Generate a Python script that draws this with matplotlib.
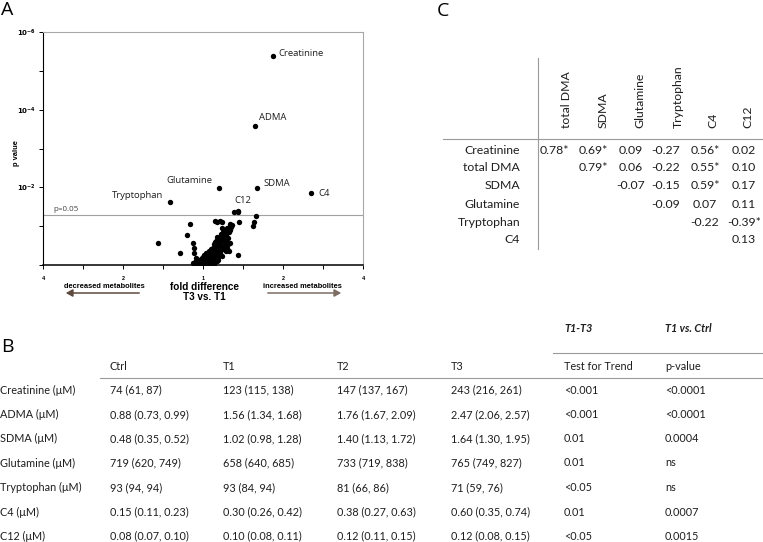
import numpy as np
import matplotlib
matplotlib.use("Agg")
import matplotlib.pyplot as plt

# ---- panel A: volcano plot (log2 fold difference T3 vs T1, -log10 p) ----
label_names = ["Creatinine", "ADMA", "Glutamine", "SDMA", "C4", "Tryptophan", "C12"]
label_log2fc = [0.875, 0.65, 0.20, 0.667, 1.35, -0.41, 0.39]
label_nlogp = [5.39, 3.59, 1.99, 1.99, 1.85, 1.62, 1.37]

other_log2fc = [0.44, -0.56, -0.17, -0.20, -0.29, -0.125, -0.11, 0.44, 0.146, 0.21, 0.24,
                0.45, 0.655, 0.64, 0.62, 0.30, 0.33, 0.35, 0.32, 0.25, 0.29, 0.31, 0.17,
                0.23, 0.21, 0.16, 0.13, 0.27, 0.25, 0.19, 0.10, 0.29, 0.33, 0.27, 0.325,
                -0.11, -0.09, -0.06, -0.13, -0.10, -0.08, -0.05, -0.03, -0.01, 0.00, 0.02,
                0.03, 0.05, 0.06, 0.07, 0.08, 0.09, 0.10, 0.11, 0.12, 0.13, 0.14, 0.15,
                -0.04, -0.02, 0.01, 0.04, 0.06, 0.08, 0.10, 0.12, 0.14, 0.16, 0.18, 0.20,
                0.22, 0.18, 0.02, -0.06, 0.09, 0.12, -0.07, 0.00, 0.05, 0.17, 0.19, 0.21,
                0.24, 0.26, 0.28, 0.30, 0.23, 0.175, 0.15, 0.35, 0.34, 0.11, 0.04, 0.07,
                -0.12, -0.10, -0.08, -0.06, -0.04, -0.02, 0.00, 0.02, 0.04, 0.06, 0.08,
                0.10, 0.12, 0.14, 0.16, 0.18, 0.20, 0.22, 0.24, 0.26, 0.28, 0.30, 0.32,
                0.34, 0.36, 0.20, 0.22, 0.15, 0.11, 0.13, -0.03, 0.03, 0.07, 0.13, 0.17,
                0.19, 0.23, 0.27, 0.29, 0.31]
other_nlogp = [0.25, 0.58, 1.07, 0.77, 0.30, 0.57, 0.43, 1.37, 1.14, 1.14, 1.12,
               1.12, 1.27, 1.12, 1.01, 0.43, 1.05, 0.97, 0.85, 0.85, 0.75, 0.69, 0.72,
               0.64, 0.52, 0.49, 0.43, 0.60, 0.49, 0.36, 0.36, 0.36, 0.57, 0.38, 0.37,
               0.30, 0.17, 0.09, 0.04, 0.02, 0.05, 0.03, 0.07, 0.02, 0.10, 0.05,
               0.15, 0.02, 0.10, 0.20, 0.05, 0.15, 0.25, 0.08, 0.30, 0.18, 0.05, 0.35,
               0.12, 0.18, 0.25, 0.08, 0.28, 0.32, 0.40, 0.45, 0.55, 0.62, 0.55, 0.45,
               0.80, 0.70, 0.00, 0.00, 0.00, 0.12, 0.14, 0.20, 0.22, 0.28, 0.20, 0.30,
               0.40, 0.70, 0.90, 0.95, 0.95, 1.12, 0.60, 1.03, 0.90, 0.18, 0.30, 0.35,
               0.02, 0.08, 0.12, 0.06, 0.02, 0.10, 0.04, 0.12, 0.18, 0.04, 0.22,
               0.12, 0.22, 0.30, 0.40, 0.48, 0.60, 0.65, 0.75, 0.82, 0.78, 0.85, 0.92,
               0.98, 1.02, 0.38, 0.52, 0.15, 0.35, 0.40, 0.16, 0.00, 0.00, 0.00, 0.10,
               0.12, 0.22, 0.50, 0.62, 0.55]

x_ticks = [-2, -1.5, -1, -0.5, 0, 0.5, 1, 1.5, 2]
x_ticklabels = ["4", "", "2", "", "1", "", "2", "", "4"]
y_ticks = [0, 1, 2, 3, 4, 5, 6]
y_ticklabels = ["", "", r"$\mathbf{10^{-2}}$", "", r"$\mathbf{10^{-4}}$", "", r"$\mathbf{10^{-6}}$"]
p_cut = 0.05

# ---- panel C: correlation table ----
corr_cols = ["total DMA", "SDMA", "Glutamine", "Tryptophan", "C4", "C12"]
corr_rows = ["Creatinine", "total DMA", "SDMA", "Glutamine", "Tryptophan", "C4"]
corr_vals = [
    ["0.78*", "0.69*", "0.09", "-0.27", "0.56*", "0.02"],
    ["", "0.79*", "0.06", "-0.22", "0.55*", "0.10"],
    ["", "", "-0.07", "-0.15", "0.59*", "0.17"],
    ["", "", "", "-0.09", "0.07", "0.11"],
    ["", "", "", "", "-0.22", "-0.39*"],
    ["", "", "", "", "", "0.13"],
]

# ---- panel B: concentrations table ----
b_rows = ["Creatinine (μM)", "ADMA (μM)", "SDMA (μM)", "Glutamine (μM)",
          "Tryptophan (μM)", "C4 (μM)", "C12 (μM)"]
b_ctrl = ["74 (61, 87)", "0.88 (0.73, 0.99)", "0.48 (0.35, 0.52)", "719 (620, 749)",
          "93 (94, 94)", "0.15 (0.11, 0.23)", "0.08 (0.07, 0.10)"]
b_t1 = ["123 (115, 138)", "1.56 (1.34, 1.68)", "1.02 (0.98, 1.28)", "658 (640, 685)",
        "93 (84, 94)", "0.30 (0.26, 0.42)", "0.10 (0.08, 0.11)"]
b_t2 = ["147 (137, 167)", "1.76 (1.67, 2.09)", "1.40 (1.13, 1.72)", "733 (719, 838)",
        "81 (66, 86)", "0.38 (0.27, 0.63)", "0.12 (0.11, 0.15)"]
b_t3 = ["243 (216, 261)", "2.47 (2.06, 2.57)", "1.64 (1.30, 1.95)", "765 (749, 827)",
        "71 (59, 76)", "0.60 (0.35, 0.74)", "0.12 (0.08, 0.15)"]
b_trend = ["<0.001", "<0.001", "0.01", "0.01", "<0.05", "0.01", "<0.05"]
b_pval = ["<0.0001", "<0.0001", "0.0004", "ns", "ns", "0.0007", "0.0015"]
b_header = ["Ctrl", "T1", "T2", "T3", "Test for Trend", "p-value"]
b_group = ["T1-T3", "T1 vs. Ctrl"]

W, H = 763, 542
fig = plt.figure(figsize=(W / 100, H / 100), dpi=100)


def fx(px):
    return px / W


def fy(py):
    return 1 - py / H


TAB_FONT = "Lato"
TXT = "#1e1e1e"
LINE = "#9a9a9a"

# ---------------- panel A ----------------
ax = fig.add_axes([fx(43.3), fy(265), fx(363.3) - fx(43.3), fy(32.3) - fy(265)])
ax.scatter(other_log2fc, other_nlogp, s=15, color="black", zorder=3, linewidths=0)
ax.scatter(label_log2fc, label_nlogp, s=15, color="black", zorder=3, linewidths=0)
ax.scatter([0.44], [1.38], s=15, color="black", zorder=3, linewidths=0)
ax.axhline(-np.log10(p_cut), color="#a0a0a0", lw=0.8)
ax.set_xlim(-2, 2)
ax.set_ylim(0, 6)
ax.set_xticks(x_ticks)
ax.set_xticklabels(x_ticklabels, fontsize=4, fontweight="bold", family="Liberation Sans")
ax.set_yticks(y_ticks)
ax.set_yticklabels(y_ticklabels, fontsize=5, family="Liberation Sans")
ax.tick_params(length=3, width=0.7, pad=2)
ax.tick_params(axis="x", pad=5)
for s in ["top", "right"]:
    ax.spines[s].set_color("#a8a8a8")
    ax.spines[s].set_linewidth(0.8)
ax.spines["left"].set_linewidth(0.8)
ax.spines["bottom"].set_linewidth(1.1)
ax.set_ylabel("p value", fontsize=5.4, fontweight="bold", family="Liberation Sans")
ax.yaxis.set_label_coords(-0.073, 0.48)

offsets = {
    "Creatinine": (4, 2, "left"),
    "ADMA": (3, 6, "left"),
    "Glutamine": (-5, 5, "right"),
    "SDMA": (5, 3, "left"),
    "C4": (5, 0, "left"),
    "Tryptophan": (-5, 5, "right"),
    "C12": (0, 8, "left"),
}
for name, x, y in zip(label_names, label_log2fc, label_nlogp):
    dx, dy, ha = offsets[name]
    ax.annotate(name, (x, y), xytext=(dx, dy), textcoords="offset points",
                ha=ha, va="center", fontsize=6.8, family="Open Sans", color=TXT)
ax.text(-1.88, -np.log10(p_cut) + 0.04, "p=0.05", fontsize=5.8, family="Open Sans",
        color="#444444", va="bottom")

fig.text(fx(1), fy(10), "A", fontsize=14, family="Open Sans", va="center", ha="left")
fig.text(fx(204), fy(287), "fold difference", fontsize=7.2, fontweight="bold",
         family="Liberation Sans", ha="center", va="center")
fig.text(fx(204), fy(297), "T3 vs. T1", fontsize=7.2, fontweight="bold",
         family="Liberation Sans", ha="center", va="center")
fig.text(fx(104), fy(286), "decreased metabolites", fontsize=5.4, fontweight="bold",
         family="Liberation Sans", ha="center", va="center")
fig.text(fx(302), fy(286), "increased metabolites", fontsize=5.4, fontweight="bold",
         family="Liberation Sans", ha="center", va="center")
fig.add_artist(matplotlib.patches.FancyArrowPatch(
    (fx(142), fy(293)), (fx(63), fy(293)), transform=fig.transFigure,
    arrowstyle="-|>,head_length=4,head_width=2.2", color="#5e4a3e", lw=1.1))
fig.add_artist(matplotlib.patches.FancyArrowPatch(
    (fx(265), fy(293)), (fx(344), fy(293)), transform=fig.transFigure,
    arrowstyle="-|>,head_length=4,head_width=2.2", color="#7d6e64", lw=1.1))

# ---------------- panel C ----------------
C_FS = 8.8
fig.text(fx(437), fy(11), "C", fontsize=14, family="Open Sans", va="center", ha="left")
fig.add_artist(plt.Line2D([fx(538.3), fx(538.3)], [fy(58), fy(249)], color=LINE, lw=0.8))
fig.add_artist(plt.Line2D([fx(442.7), fx(763)], [fy(139), fy(139)], color=LINE, lw=0.8))
head_x = [566.7, 603.3, 640, 678.3, 713.3, 748.3]
cell_x = [554.5, 593, 631, 666, 705, 744]
row_y = [150, 167.8, 185.7, 204, 222, 239.5]
for name, hx in zip(corr_cols, head_x):
    fig.text(fx(hx), fy(128), name, rotation=90, ha="center", va="bottom",
             fontsize=C_FS, family=TAB_FONT, color=TXT)
for i, name in enumerate(corr_rows):
    fig.text(fx(520), fy(row_y[i]), name, ha="right", va="center",
             fontsize=C_FS, family=TAB_FONT, color=TXT)
    for j, val in enumerate(corr_vals[i]):
        if val:
            fig.text(fx(cell_x[j]), fy(row_y[i]), val, ha="center", va="center",
                     fontsize=C_FS, family=TAB_FONT, color=TXT)

# ---------------- panel B ----------------
B_FS = 7.8
fig.text(fx(1), fy(347), "B", fontsize=14, family="Open Sans", va="center", ha="left")
col_x = [109.5, 223, 337, 451, 564, 665]
fig.text(fx(col_x[4]), fy(329), b_group[0], fontsize=B_FS, family=TAB_FONT,
         fontweight="bold", style="italic", va="center", color=TXT)
fig.text(fx(col_x[5]), fy(329), b_group[1], fontsize=B_FS, family=TAB_FONT,
         fontweight="bold", style="italic", va="center", color=TXT)
fig.add_artist(plt.Line2D([fx(553), fx(763)], [fy(352.5), fy(352.5)], color=LINE, lw=0.8))
for name, cx in zip(b_header, col_x):
    fig.text(fx(cx), fy(366), name, fontsize=B_FS, family=TAB_FONT, va="center", color=TXT)
fig.add_artist(plt.Line2D([fx(100), fx(763)], [fy(377.5), fy(377.5)], color=LINE, lw=0.8))
b_row_y = [390, 414.3, 438.7, 463, 487.3, 512, 536]
for i, name in enumerate(b_rows):
    y = fy(b_row_y[i])
    fig.text(fx(0), y, name, fontsize=B_FS, family=TAB_FONT, va="center", color=TXT)
    for cx, col in zip(col_x, [b_ctrl, b_t1, b_t2, b_t3, b_trend, b_pval]):
        fig.text(fx(cx), y, col[i], fontsize=B_FS, family=TAB_FONT, va="center", color=TXT)

fig.savefig("out.png", dpi=100)
